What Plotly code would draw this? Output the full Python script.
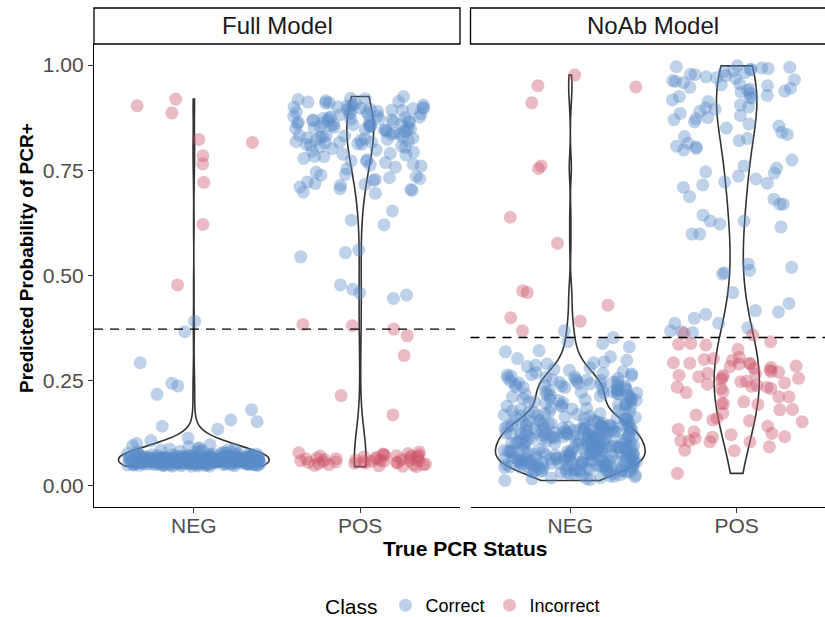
import math
import plotly.graph_objects as go

# ---------------- data ----------------
categories = ["NEG", "POS"]
panels = ["Full Model", "NoAb Model"]
class_names = ["Correct", "Incorrect"]
thresholds = [0.372, 0.352]
y_tick_vals = [0, 0.25, 0.5, 0.75, 1.0]
y_tick_text = ["0.00", "0.25", "0.50", "0.75", "1.00"]

full_neg_correct = [
    0.052,0.061,0.067,0.048,0.058,0.071,0.055,0.063,0.05,0.066,0.059,0.074,0.054,0.062,0.046,0.069,0.057,0.064,0.078,0.053,
    0.06,0.049,0.065,0.056,0.072,0.058,0.051,0.068,0.062,0.055,0.083,0.059,0.047,0.064,0.07,0.054,0.061,0.057,0.066,0.05,
    0.063,0.056,0.075,0.052,0.06,0.067,0.048,0.058,0.065,0.071,0.053,0.062,0.057,0.08,0.051,0.064,0.059,0.068,0.055,0.061,
    0.058,0.066,0.05,0.062,0.073,0.055,0.06,0.047,0.069,0.056,0.063,0.052,0.077,0.059,0.065,0.054,0.061,0.049,0.067,0.057,
    0.088,0.053,0.064,0.059,0.07,0.051,0.062,0.056,0.066,0.06,0.048,0.072,0.058,0.054,0.065,0.061,0.076,0.052,0.063,0.057,
    0.06,0.067,0.054,0.062,0.05,0.058,0.085,0.064,0.056,0.071,0.053,0.061,0.068,0.046,0.059,0.065,0.055,0.074,0.062,0.057,
    0.063,0.052,0.058,0.079,0.06,0.066,0.049,0.057,0.062,0.07,0.055,0.064,0.051,0.059,0.067,0.061,0.082,0.054,0.058,0.065,
    0.056,0.072,0.06,0.053,0.064,0.058,0.069,0.05,0.061,0.057,0.066,0.092,0.055,0.062,0.048,0.073,0.059,0.063,0.054,0.068,
    0.061,0.057,0.065,0.052,0.07,0.06,0.055,0.063,0.075,0.058,0.051,0.067,0.062,0.086,0.056,0.064,0.059,0.049,0.071,0.06,
    0.054,0.066,0.058,0.062,0.05,0.068,0.057,0.097,0.061,0.064,0.053,0.059,0.072,0.056,0.065,0.06,0.047,0.063,0.081,0.058,
    0.062,0.055,0.069,0.059,0.064,0.052,0.06,0.074,0.057,0.066,0.061,0.05,0.063,0.058,0.09,0.055,0.067,0.06,0.053,0.065,
    0.059,0.07,0.056,0.062,0.048,0.064,0.058,0.061,0.077,0.054,0.066,0.06,0.057,0.063,0.052,0.069,0.084,0.059,0.065,0.056,
    0.061,0.053,0.067,0.058,0.062,0.073,0.05,0.06,0.064,0.056,0.1,0.059,0.066,0.055,0.062,0.049,0.071,0.058,0.063,0.057,
    0.065,0.06,0.054,0.068,0.059,0.062,0.051,0.078,0.057,0.064,0.06,0.055,0.067,0.061,0.046,0.063,0.058,0.095,0.06,0.066,
    0.056,0.062,0.07,0.058,0.053,0.064,0.06,0.057,0.087,0.061,0.066,0.052,0.059,0.063,0.072,0.055,0.06,0.065,0.05,0.062,
    0.058,0.064,0.055,0.061,0.069,0.057,0.063,0.05,0.06,0.075,0.056,0.062,0.059,0.067,0.053,0.061,0.058,0.08,0.064,0.06,
    0.391,0.366,0.292,0.243,0.237,0.217,0.180,0.156,0.152,0.141,0.134,0.113,0.107,
]
full_neg_incorrect = [0.903,0.919,0.886,0.816,0.823,0.784,0.765,0.721,0.621,0.477]

full_pos_correct = [
    0.925,0.92,0.918,0.912,0.91,0.905,0.902,0.9,0.898,0.895,0.893,0.89,0.888,0.885,0.882,0.915,0.908,0.9,0.896,0.892,
    0.887,0.884,0.921,0.913,0.906,0.899,0.894,0.889,0.883,0.91,0.903,0.897,
    0.878,0.875,0.872,0.87,0.868,0.865,0.862,0.86,0.858,0.855,0.852,0.85,0.848,0.845,0.842,0.877,0.873,0.869,0.866,0.863,
    0.859,0.856,0.853,0.849,0.846,0.843,0.876,0.871,0.867,0.861,0.857,0.851,0.847,0.874,0.864,0.854,0.844,0.879,0.868,0.858,
    0.838,0.835,0.832,0.83,0.828,0.825,0.822,0.82,0.818,0.815,0.812,0.81,0.807,0.804,0.801,0.836,0.831,0.826,0.821,0.816,
    0.811,0.806,0.833,0.823,0.813,0.827,0.817,0.829,
    0.798,0.795,0.79,0.786,0.782,0.778,0.775,0.771,0.768,0.764,0.76,0.757,0.753,0.793,0.783,0.772,0.762,0.788,
    0.745,0.74,0.735,0.73,0.726,0.722,0.718,0.714,0.71,0.706,0.702,0.698,0.695,0.738,0.728,0.716,0.704,0.732,
    0.653,0.631,0.62,0.56,0.554,0.544,0.477,0.467,0.458,0.453,0.445,
]
full_pos_incorrect = [
    0.048,0.055,0.062,0.07,0.052,0.058,0.066,0.075,0.05,0.06,0.068,0.045,0.057,0.064,0.072,0.053,0.061,0.078,0.049,0.059,
    0.067,0.054,0.063,0.071,0.046,0.056,0.065,0.08,0.051,0.06,0.069,0.058,0.074,0.047,0.062,0.055,0.066,0.073,0.05,0.059,
    0.076,0.053,0.064,0.057,0.07,
    0.372,0.383,0.38,0.356,0.309,0.214,0.168,
]

noab_neg_correct = [
    0.012,0.016,0.019,0.022,0.025,0.028,0.014,0.021,0.024,0.027,0.018,0.029,0.017,0.023,0.026,
    0.031,0.033,0.035,0.037,0.039,0.041,0.043,0.045,0.047,0.049,0.032,0.034,0.036,0.038,0.04,0.042,0.044,0.046,
    0.048,0.05,0.031,0.035,0.039,0.043,0.047,0.033,0.037,0.041,0.045,0.049,
    0.032,0.036,0.04,0.044,0.048,0.034,0.038,0.042,0.046,0.05,
    0.051,0.052,0.053,0.054,0.055,0.056,0.057,0.058,0.059,0.06,0.061,0.062,0.063,0.064,0.065,0.066,0.067,0.068,0.069,0.07,
    0.051,0.053,0.055,0.057,0.059,0.061,0.063,0.065,0.067,0.069,0.052,0.056,0.06,0.064,0.068,0.054,0.058,0.062,
    0.055,0.059,0.063,0.067,0.053,0.057,0.061,0.065,
    0.071,0.072,0.073,0.074,0.075,0.076,0.077,0.078,0.079,0.08,0.081,0.082,0.083,0.084,0.085,0.086,0.087,0.088,0.089,0.09,
    0.071,0.073,0.075,0.077,0.079,0.081,0.083,0.085,0.087,0.089,0.072,0.076,0.08,0.084,0.088,0.074,0.078,0.082,0.086,0.09,
    0.091,0.092,0.093,0.094,0.095,0.096,0.097,0.098,0.099,0.1,0.101,0.102,0.103,0.104,0.105,0.106,0.107,0.108,0.109,0.11,
    0.091,0.093,0.095,0.097,0.099,0.101,0.103,0.105,0.107,0.109,0.092,0.1,0.108,
    0.111,0.112,0.113,0.114,0.115,0.116,0.117,0.118,0.119,0.12,0.121,0.122,0.123,0.124,0.125,0.126,0.127,0.128,0.129,0.13,
    0.111,0.113,0.115,0.117,0.119,0.121,0.123,0.125,0.127,0.129,0.112,0.116,0.12,0.124,0.128,0.114,0.118,0.122,0.126,0.13,
    0.131,0.132,0.133,0.134,0.135,0.136,0.137,0.138,0.139,0.14,0.141,0.142,0.143,0.144,0.145,0.146,0.147,0.148,0.149,0.15,
    0.132,0.136,0.14,0.144,0.148,0.134,0.137,0.143,0.146,0.131,0.135,0.139,0.142,0.147,0.133,0.138,0.141,
    0.151,0.153,0.155,0.157,0.159,0.161,0.163,0.165,0.167,0.169,0.152,0.156,0.16,0.164,0.168,0.154,0.158,0.166,0.155,0.162,
    0.171,0.173,0.175,0.177,0.179,0.181,0.183,0.185,0.187,0.189,0.174,0.182,0.171,0.176,0.184,0.188,
    0.191,0.193,0.195,0.197,0.199,0.201,0.203,0.205,0.207,0.209,0.196,0.204,0.192,0.198,0.202,0.206,
    0.211,0.213,0.215,0.217,0.219,0.221,0.223,0.225,0.227,0.229,0.212,0.216,0.22,0.224,0.228,0.218,0.214,0.222,0.226,
    0.231,0.232,0.233,0.234,0.235,0.236,0.237,0.238,0.239,0.24,0.241,0.242,0.243,0.244,0.245,0.246,0.247,0.248,0.249,0.25,
    0.251,0.253,0.255,0.257,0.259,0.261,0.263,0.265,0.267,0.269,0.252,0.256,0.26,0.264,
    0.271,0.274,0.277,0.28,0.283,0.286,0.289,
    0.294,0.298,0.302,0.306,0.292,
    0.318,0.321,0.33,0.338,0.342,0.352,0.368,
]
noab_neg_incorrect = [0.951,0.976,0.948,0.910,0.760,0.754,0.638,0.576,0.459,0.463,0.429,0.399,0.391,0.368]

noab_pos_correct = [
    0.998,0.995,0.992,0.99,0.986,0.982,0.978,0.975,0.972,0.968,0.965,0.961,0.958,0.996,0.993,0.984,
    0.977,0.97,0.963,0.989,
    0.955,0.951,0.947,0.943,0.94,0.936,0.932,0.928,0.925,0.921,0.917,0.913,0.953,0.938,0.923,0.945,
    0.905,0.9,0.895,0.89,0.885,0.88,0.875,0.87,0.865,0.86,0.855,0.85,0.898,0.872,
    0.84,0.835,0.83,0.825,0.82,0.814,0.807,0.805,0.802,0.798,
    0.774,0.76,0.755,0.743,0.746,0.736,0.715,0.722,0.709,0.729,0.719,0.687,0.669,0.681,0.669,0.643,0.622,0.629,0.629,0.615,
    0.598,0.598,0.527,0.506,0.519,0.503,0.512,
    0.459,0.433,0.416,0.407,0.398,0.386,0.386,0.368,0.366,0.375,0.364,0.413,
]
noab_pos_incorrect = [
    0.362,0.334,0.338,0.324,0.342,0.358,0.336,0.292,0.289,0.291,0.289,0.279,0.267,0.305,0.284,0.271,0.265,0.255,0.234,0.238,
    0.236,0.247,0.223,0.231,0.211,0.195,0.211,0.199,0.195,0.18,0.257,0.231,0.291,0.298,0.283,0.275,0.259,0.234,0.262,0.156,
    0.16,0.128,0.152,0.116,0.115,0.092,0.083,0.168,0.154,0.134,0.124,0.104,0.106,0.104,0.107,0.112,0.084,0.029,0.181,0.248,
    0.27,0.3,0.244,0.302,0.262,0.241,0.221,0.193,0.172,0.141,0.121,0.281,0.252,
]

# ---------------- styling ----------------
FONT = "Liberation Sans, Arial, Helvetica, sans-serif"
COL = {"Correct": "rgba(90,140,200,0.40)", "Incorrect": "rgba(204,85,105,0.40)"}
VIOLIN_LINE = "#333333"
JITTER_W = 0.4

data = {
    ("Full Model", "NEG"): {"Correct": full_neg_correct, "Incorrect": full_neg_incorrect},
    ("Full Model", "POS"): {"Correct": full_pos_correct, "Incorrect": full_pos_incorrect},
    ("NoAb Model", "NEG"): {"Correct": noab_neg_correct, "Incorrect": noab_neg_incorrect},
    ("NoAb Model", "POS"): {"Correct": noab_pos_correct, "Incorrect": noab_pos_incorrect},
}
violin_style = {
    ("Full Model", "NEG"): dict(width=0.9, bandwidth=0.032),
    ("Full Model", "POS"): dict(width=0.16, bandwidth=0.07),
    ("NoAb Model", "NEG"): dict(width=0.9, bandwidth=0.03),
    ("NoAb Model", "POS"): dict(width=0.27, bandwidth=0.09),
}


def jitter(n, seed):
    out = []
    for i in range(n):
        h = math.sin((i + 1) * 12.9898 + seed * 78.233) * 43758.5453
        out.append(JITTER_W * (2 * (h - math.floor(h)) - 1))
    return out


fig = go.Figure()
shown = set()
for p_i, panel in enumerate(panels):
    xa = "x" if p_i == 0 else "x2"
    ya = "y" if p_i == 0 else "y2"
    for c_i, cat in enumerate(categories):
        pos = c_i + 1
        groups = data[(panel, cat)]
        allv = groups["Correct"] + groups["Incorrect"]
        vs = violin_style[(panel, cat)]
        fig.add_trace(go.Violin(
            x0=pos, y=allv, xaxis=xa, yaxis=ya, width=vs["width"], bandwidth=vs["bandwidth"],
            spanmode="hard", scalemode="width", points=False,
            line=dict(color=VIOLIN_LINE, width=1.6), fillcolor="rgba(0,0,0,0)",
            box_visible=False, meanline_visible=False, showlegend=False, hoverinfo="skip",
            orientation="v",
        ))
        for k_i, cls in enumerate(class_names):
            vals = groups[cls]
            js = jitter(len(vals), p_i * 10 + c_i * 3 + k_i + 1)
            fig.add_trace(go.Scatter(
                x=[pos + j for j in js], y=vals, xaxis=xa, yaxis=ya, mode="markers",
                marker=dict(size=13, color=COL[cls], line=dict(width=0)),
                name=cls, legendgroup=cls, showlegend=cls not in shown,
            ))
            shown.add(cls)

# geometry (pixels -> paper)
W, H = 825, 617
L, R, T, B = 94, 0, 44, 110
PW, PH = W - L - R, H - T - B
def px(x):
    return (x - L) / PW
def py(y):
    return (H - B - y) / PH

left_end = px(460)
right_start = px(470.5)
unit = (460 - 94) / 2.2
right_max = 0.4 + (825 - 470.5) / unit

axis_common = dict(showgrid=False, zeroline=False, showline=True, linecolor="black", linewidth=1.2,
                   ticks="outside", ticklen=5, tickcolor="#333333", tickwidth=1.1,
                   tickfont=dict(family=FONT, size=21, color="#4D4D4D"))
fig.update_layout(
    width=W, height=H, margin=dict(l=L, r=R, t=T, b=B, autoexpand=False),
    paper_bgcolor="white", plot_bgcolor="white",
    font=dict(family=FONT, color="black"),
    xaxis=dict(domain=[0, left_end], range=[0.4, 2.6], type="linear", tickvals=[1, 2], ticktext=categories,
               anchor="y", ticklabelstandoff=-5, **axis_common),
    xaxis2=dict(domain=[right_start, 1], range=[0.4, right_max], type="linear", tickvals=[1, 2],
                ticktext=categories, anchor="y2", ticklabelstandoff=-5, **axis_common),
    yaxis=dict(range=[-0.051, 1.05], tickvals=y_tick_vals, ticktext=y_tick_text, anchor="x", **axis_common),
    yaxis2=dict(range=[-0.051, 1.05], tickvals=y_tick_vals, showticklabels=False, anchor="x2",
                showgrid=False, zeroline=False, showline=False, ticks=""),
    violinmode="overlay",
    showlegend=True,
    legend=dict(orientation="h", x=px(464), xanchor="center", y=py(606), yanchor="middle",
                title=dict(text="Class", font=dict(family=FONT, size=21, color="black"), side="left"),
                font=dict(family=FONT, size=18, color="black"), itemsizing="trace"),
)

# threshold lines
for p_i, thr in enumerate(thresholds):
    xr = "x domain" if p_i == 0 else "x2 domain"
    yr = "y" if p_i == 0 else "y2"
    fig.add_shape(type="line", xref=xr, yref=yr, x0=0, x1=1, y0=thr, y1=thr,
                  line=dict(color="black", width=1.4, dash="9px,7px"))

# strips
strip_top = py(8)
for p_i, panel in enumerate(panels):
    x0, x1 = (0, left_end) if p_i == 0 else (right_start, 1.02)
    fig.add_shape(type="rect", xref="paper", yref="paper", x0=x0, x1=x1, y0=1.0, y1=strip_top,
                  line=dict(color="black", width=1.3), fillcolor="white", layer="above")
    cx = (px(94) + left_end) / 2 if p_i == 0 else (right_start + px(836)) / 2
    fig.add_annotation(text=panel, xref="paper", yref="paper", x=cx, y=(1.0 + strip_top) / 2,
                       showarrow=False, font=dict(family=FONT, size=24, color="#1A1A1A"),
                       xanchor="center", yanchor="middle")

# axis titles
fig.add_annotation(text="<b>True PCR Status</b>", xref="paper", yref="paper", x=px(465), y=py(548),
                   showarrow=False, font=dict(family=FONT, size=21, color="black"),
                   xanchor="center", yanchor="middle")
fig.add_annotation(text="<b>Predicted Probability of PCR+</b>", xref="paper", yref="paper", x=px(26), y=py(258),
                   showarrow=False, textangle=-90, font=dict(family=FONT, size=19, color="black"),
                   xanchor="center", yanchor="middle")

fig.write_html("out.html")
